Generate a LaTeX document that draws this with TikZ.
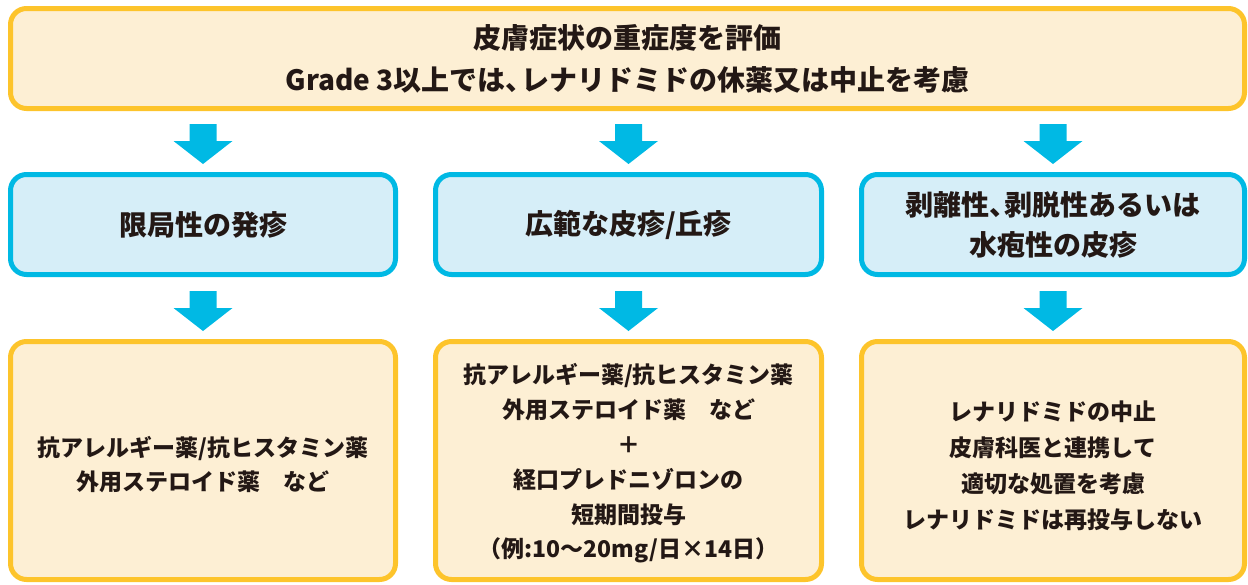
\documentclass[tikz,border=0pt]{standalone}
\usepackage{fontspec}
\setmainfont{Noto Sans CJK JP}
\usetikzlibrary{calc}
\definecolor{ostroke}{HTML}{FDC42B}
\definecolor{ofill}{HTML}{FDEFD4}
\definecolor{bstroke}{HTML}{00B9E4}
\definecolor{bfill}{HTML}{D6EEF8}
\definecolor{txt}{HTML}{231815}
\newcommand{\blkarrow}[1]{%
  \begin{scope}[shift={(#1)}]
    \fill[bstroke] (-13.5,0) -- (13.5,0) -- (13.5,17) -- (29.5,17) -- (0,40) -- (-29.5,17) -- (-13.5,17) -- cycle;
  \end{scope}}
\newcommand{\sten}{\makebox[0.55em][l]{、}}
\begin{document}
\begin{tikzpicture}[x=1pt,y=-1pt,
  obox/.style={draw=ostroke,fill=ofill,line width=5pt,rounded corners=16pt,align=center,text=txt,inner sep=0pt},
  bbox/.style={draw=bstroke,fill=bfill,line width=5pt,rounded corners=16pt,align=center,text=txt,inner sep=0pt},
  toptext/.style={font=\bfseries\fontsize{28}{42}\selectfont},
  midtext/.style={font=\bfseries\fontsize{28}{40}\selectfont},
  bottext/.style={font=\bfseries\fontsize{23}{34.8}\selectfont}]
\useasboundingbox (0,0) rectangle (1248,584);
\node[obox,toptext,minimum width=1234pt,minimum height=100pt] (top) at (627.5,58.5)
  {皮膚症状の重症度を評価\\Grade 3以上では\sten レナリドミドの休薬又は中止を考慮};
\node[bbox,midtext,minimum width=385pt,minimum height=100pt] (b1) at (203,224.5) {限局性の発疹};
\node[bbox,midtext,minimum width=386pt,minimum height=100pt] (b2) at (628.5,224.5) {広範な皮疹/丘疹};
\node[bbox,midtext,minimum width=383pt,minimum height=100pt] (b3) at (1053,224.5) {剥離性\sten 剥脱性あるいは\\水疱性の皮疹};
\node[obox,minimum width=385pt,minimum height=238pt] (c1) at (203,460.5) {};
\node[obox,minimum width=386pt,minimum height=238pt] (c2) at (628.5,460.5) {};
\node[obox,minimum width=383pt,minimum height=238pt] (c3) at (1053,460.5) {};
\node[bottext,text=txt,align=center] (t1) at ($(c1.center)+(0,4)$) {抗アレルギー薬/抗ヒスタミン薬\\外用ステロイド薬\quad など};
\node[bottext,text=txt,align=center] (t2) at ($(c2.center)+(0,3)$) {抗アレルギー薬/抗ヒスタミン薬\\外用ステロイド薬\quad など\\＋\\経口プレドニゾロンの\\短期間投与\\（例:10〜20mg/日×14日）};
\node[bottext,text=txt,align=center,font=\bfseries\fontsize{23}{36}\selectfont] (t3) at ($(c3.center)+(0,5)$) {レナリドミドの中止\\皮膚科医と連携して\\適切な処置を考慮\\レナリドミドは再投与しない};
\coordinate (a1) at ($(b1.north)+(0,-48)$);
\coordinate (a2) at ($(b2.north)+(0,-48)$);
\coordinate (a3) at ($(b3.north)+(0,-48)$);
\coordinate (d1) at ($(c1.north)+(0,-48)$);
\coordinate (d2) at ($(c2.north)+(0,-48)$);
\coordinate (d3) at ($(c3.north)+(0,-48)$);
\blkarrow{a1}\blkarrow{a2}\blkarrow{a3}
\blkarrow{d1}\blkarrow{d2}\blkarrow{d3}
\end{tikzpicture}
\end{document}
